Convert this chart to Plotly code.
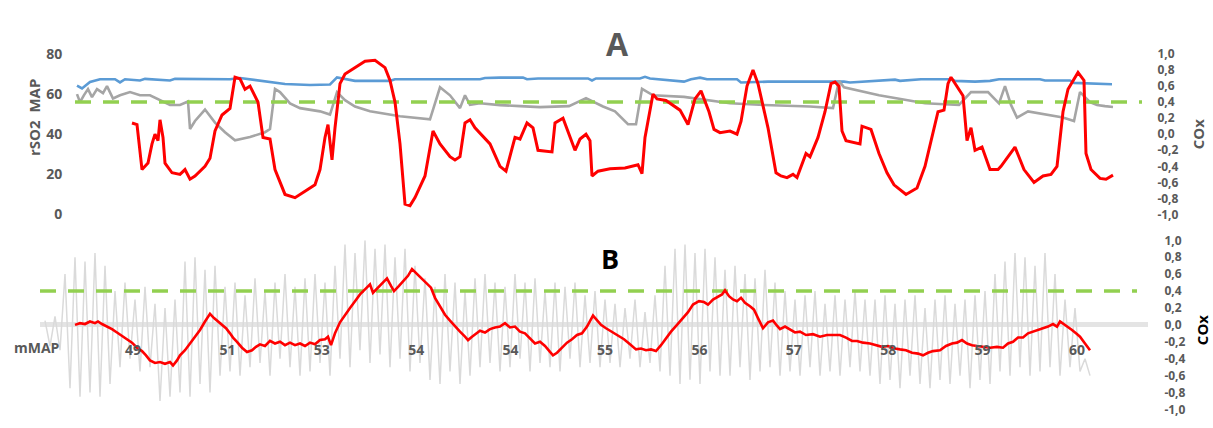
import numpy as np
import plotly.graph_objects as go

W, H = 1213, 428

# ---------------- Panel A data (time samples, values) ----------------
A_RED_T = [57, 62, 67, 73, 77, 80, 83, 85, 88, 90, 97, 105, 110, 115, 120, 130, 135, 140, 147, 155,
           160, 165, 170, 175, 183, 188, 195, 200, 210, 220, 230, 240, 245, 250, 253, 257, 260, 265,
           270, 280, 290, 300, 310, 315, 320, 325, 330, 335, 340, 350, 358, 365, 375, 380, 385, 390,
           395, 400, 415, 425, 431, 440, 445, 452, 458, 463, 477, 480, 488, 500, 505, 511, 515, 517,
           523, 535, 550, 563, 567, 570, 578, 582, 591, 605, 613, 620, 626, 634, 639, 645, 655, 662,
           666, 672, 678, 683, 693, 701, 706, 712, 718, 722, 727, 731, 735, 743, 750, 756, 760, 764,
           767, 771, 785, 787, 796, 804, 812, 819, 831, 842, 850, 857, 863, 869, 873, 876, 880, 888,
           892, 896, 900, 907, 915, 923, 926, 940, 949, 959, 968, 976, 982, 988, 993, 1003, 1009,
           1011, 1016, 1025, 1031, 1038]
A_RED_COX = [0.14, 0.12, -0.44, -0.36, -0.12, 0.0, -0.08, 0.18, -0.04, -0.36, -0.48, -0.50, -0.44,
             -0.56, -0.52, -0.40, -0.30, 0.04, 0.24, 0.32, 0.71, 0.69, 0.56, 0.60, 0.40, -0.04, -0.06,
             -0.44, -0.75, -0.79, -0.71, -0.63, -0.44, -0.04, 0.12, -0.32, 0.08, 0.63, 0.75, 0.83,
             0.91, 0.92, 0.83, 0.67, 0.40, -0.12, -0.87, -0.89, -0.79, -0.52, 0.04, -0.12, -0.28,
             -0.32, -0.28, 0.14, 0.18, 0.08, -0.12, -0.40, -0.46, -0.04, -0.06, 0.14, 0.08, -0.20,
             -0.22, 0.14, 0.20, -0.20, -0.06, 0.0, -0.08, -0.52, -0.46, -0.43, -0.42, -0.38, -0.49,
             -0.04, 0.50, 0.44, 0.42, 0.30, 0.12, 0.44, 0.54, 0.28, 0.06, 0.02, 0.04, 0.0, 0.16,
             0.60, 0.80, 0.63, 0.08, -0.48, -0.52, -0.54, -0.50, -0.54, -0.36, -0.24, -0.28, -0.04,
             0.28, 0.63, 0.65, 0.60, 0.04, -0.08, -0.12, 0.10, 0.06, -0.24, -0.48, -0.63, -0.75,
             -0.67, -0.40, -0.04, 0.28, 0.30, 0.63, 0.71, 0.63, 0.48, -0.08, 0.08, -0.20, -0.16,
             -0.44, -0.44, -0.40, -0.16, -0.44, -0.60, -0.52, -0.50, -0.40, 0.28, 0.56, 0.77, 0.67,
             -0.24, -0.44, -0.55, -0.56, -0.51]

A_MAP_T = [2, 7, 15, 25, 40, 45, 50, 65, 70, 95, 100, 155, 165, 175, 210, 235, 255, 262, 270, 280,
           315, 320, 405, 410, 425, 448, 452, 463, 513, 517, 521, 565, 570, 575, 609, 616, 625, 632,
           662, 666, 693, 769, 775, 808, 820, 825, 846, 877, 880, 900, 915, 924, 965, 970, 995, 999,
           1025, 1037]
A_MAP = [64.2, 62.8, 66.0, 67.4, 67.4, 65.8, 67.4, 66.8, 67.6, 66.8, 67.6, 67.4, 68.0, 67.4, 65.0,
         64.5, 64.8, 68.3, 67.4, 66.6, 66.6, 67.4, 67.4, 68.0, 68.2, 68.2, 67.4, 67.8, 67.8, 66.8,
         67.8, 67.8, 68.6, 67.8, 66.2, 67.4, 68.2, 67.4, 67.4, 65.8, 66.2, 66.2, 65.8, 66.6, 67.2,
         66.6, 67.4, 67.4, 66.6, 66.2, 66.6, 67.4, 67.4, 66.8, 66.8, 65.6, 65.0, 64.9]

A_RSO2_T = [2, 5, 9, 13, 17, 22, 28, 32, 38, 45, 55, 65, 75, 85, 95, 105, 113, 115, 120, 130, 140,
            150, 160, 175, 190, 195, 200, 205, 215, 225, 245, 255, 262, 270, 280, 295, 325, 355,
            365, 375, 385, 390, 395, 405, 425, 445, 465, 494, 511, 528, 540, 553, 561, 567, 578,
            609, 632, 655, 689, 735, 758, 764, 769, 804, 850, 884, 896, 913, 924, 930, 936, 942,
            953, 988, 999, 1005, 1015, 1022, 1030, 1038]
A_RSO2 = [60.0, 56.0, 59.5, 62.5, 58.5, 62.5, 60.5, 64.0, 57.8, 59.4, 61.0, 59.4, 59.4, 57.0, 54.6,
          54.6, 56.3, 42.6, 46.6, 52.3, 45.8, 41.0, 37.0, 38.6, 41.0, 42.6, 62.6, 61.0, 55.4, 53.0,
          51.4, 49.8, 61.0, 57.0, 53.8, 51.4, 49.0, 47.4, 63.4, 59.4, 53.0, 59.4, 54.6, 55.4, 54.5,
          54.0, 53.5, 54.0, 58.0, 53.8, 51.4, 45.0, 45.0, 62.6, 59.4, 58.6, 57.0, 55.4, 54.6, 53.8,
          53.0, 66.6, 63.4, 59.4, 55.4, 54.6, 61.0, 61.0, 55.4, 64.0, 54.6, 48.3, 51.4, 48.3, 46.6,
          61.0, 56.0, 54.6, 54.0, 53.6]

# ---------------- Panel B data ----------------
B_RED_T = [35, 40, 45, 50, 55, 58, 62, 67, 72, 77, 82, 87, 92, 97, 102, 106, 110, 115, 120, 125,
           130, 133, 137, 140, 145, 150, 155, 160, 165, 170, 174, 178, 182, 186, 190, 193, 197, 202,
           207, 212, 216, 220, 225, 230, 235, 240, 245, 250, 255, 260, 265, 270, 275, 280, 285, 288,
           291, 295, 300, 305, 310, 315, 320, 325, 330, 333, 338, 343, 347, 351, 354, 359, 364, 368,
           372, 377, 382, 387, 391, 395, 400, 405, 410, 415, 420, 425, 428, 432, 436, 440, 445, 450,
           455, 460, 465, 470, 475, 480, 485, 490, 495, 500, 505, 510, 513, 517, 522, 527, 532, 537,
           542, 547, 553, 557, 561, 566, 572, 578, 584, 590, 596, 601, 606, 611, 616, 621, 626, 631,
           637, 642, 648, 653, 659, 664, 668, 673, 678, 682, 685, 689, 693, 697, 701, 705, 710, 714,
           718, 723, 728, 733, 737, 740, 745, 750, 755, 760, 766, 773, 780, 787, 793, 800, 806, 812,
           817, 823, 830, 836, 842, 848, 855, 860, 866, 872, 878, 883, 888, 893, 900, 906, 912, 917,
           922, 927, 932, 937, 943, 950, 957, 963, 968, 973, 978, 983, 988, 993, 998, 1003, 1008,
           1013, 1017, 1020, 1024, 1028, 1032, 1036, 1040, 1045, 1050]
B_RED_COX = [0.0, 0.02, 0.01, 0.04, 0.02, 0.04, 0.01, -0.02, -0.05, -0.09, -0.13, -0.18, -0.21,
             -0.27, -0.31, -0.36, -0.42, -0.45, -0.44, -0.46, -0.44, -0.48, -0.42, -0.36, -0.30,
             -0.22, -0.14, -0.06, 0.04, 0.13, 0.08, 0.04, 0.0, -0.04, -0.10, -0.15, -0.20, -0.27,
             -0.32, -0.30, -0.26, -0.23, -0.25, -0.19, -0.22, -0.20, -0.24, -0.21, -0.24, -0.22,
             -0.25, -0.21, -0.23, -0.18, -0.17, -0.14, -0.24, -0.10, 0.03, 0.12, 0.20, 0.28, 0.36,
             0.42, 0.48, 0.38, 0.44, 0.50, 0.55, 0.46, 0.40, 0.46, 0.52, 0.58, 0.66, 0.60, 0.55,
             0.48, 0.44, 0.32, 0.22, 0.12, 0.05, -0.02, -0.08, -0.14, -0.18, -0.14, -0.10, -0.07,
             -0.09, -0.05, -0.03, -0.02, 0.02, -0.03, -0.02, -0.08, -0.10, -0.16, -0.22, -0.20,
             -0.25, -0.32, -0.36, -0.33, -0.27, -0.21, -0.17, -0.12, -0.10, -0.02, 0.11, 0.06, 0.0,
             -0.04, -0.08, -0.12, -0.17, -0.23, -0.29, -0.28, -0.30, -0.29, -0.31, -0.24, -0.16,
             -0.08, 0.0, 0.07, 0.15, 0.24, 0.28, 0.27, 0.24, 0.30, 0.33, 0.36, 0.41, 0.34, 0.30,
             0.28, 0.32, 0.26, 0.22, 0.18, 0.08, -0.04, 0.03, 0.05, -0.01, -0.05, -0.02, -0.06,
             -0.09, -0.08, -0.12, -0.11, -0.14, -0.12, -0.12, -0.12, -0.15, -0.19, -0.19, -0.21,
             -0.22, -0.24, -0.26, -0.25, -0.28, -0.29, -0.30, -0.33, -0.34, -0.36, -0.33, -0.31,
             -0.30, -0.25, -0.22, -0.21, -0.18, -0.22, -0.24, -0.25, -0.26, -0.27, -0.26, -0.27,
             -0.22, -0.20, -0.15, -0.15, -0.10, -0.08, -0.06, -0.04, -0.02, 0.01, -0.02, 0.04, 0.01,
             -0.02, -0.06, -0.10, -0.14, -0.22, -0.30]

# raw (unsmoothed) signal, light grey, one sample every 5 time units starting at 5
B_RAW = [0.05, -0.25, 0.1, -0.3,
         0.6, -0.75, 0.8, -0.85, 0.75, -0.8, 0.85, -0.85, 0.7, -0.7,
         0.4, -0.5, 0.5, -0.4, 0.3, -0.55, 0.45, -0.5,
         0.25, -0.9, 0.2, -0.85, 0.3,
         -0.8, 0.75, -0.85, 0.8, -0.7, 0.65, -0.8, 0.7, -0.6,
         0.45, -0.55, 0.5, -0.6, 0.35, -0.5, 0.55, -0.45, 0.4, -0.6, 0.5, -0.4,
         0.6, -0.5, 0.45, -0.6, 0.55, -0.55, 0.6, -0.45, 0.5, -0.6,
         0.7, -0.4, 0.95, -0.5, 0.85, -0.3, 1.0, -0.45, 0.9, -0.35, 0.95, -0.5, 0.8, -0.4, 0.9, -0.55, 0.7, -0.45,
         0.55, -0.65, 0.45, -0.7, 0.6, -0.55, 0.5, -0.7, 0.4, -0.6,
         0.55, -0.5, 0.6, -0.45, 0.5, -0.55, 0.45, -0.5, 0.6, -0.4, 0.5, -0.55, 0.55, -0.45, 0.4, -0.5,
         0.5, -0.55, 0.45, -0.4, 0.5, -0.5, 0.35, -0.45, 0.4, -0.5,
         0.3, -0.45, 0.25, -0.5, 0.2, -0.4, 0.3, -0.5, 0.15, -0.45, 0.35, -0.55,
         0.7, -0.6, 0.9, -0.7, 0.95, -0.65, 0.85, -0.7, 0.9, -0.55, 0.8, -0.6,
         0.65, -0.6, 0.7, -0.5, 0.6, -0.65, 0.55, -0.55, 0.65, -0.5, 0.5, -0.6,
         0.4, -0.55, 0.3, -0.6, 0.35, -0.5, 0.4, -0.6, 0.25, -0.55, 0.35, -0.6, 0.3, -0.5, 0.4, -0.55, 0.3, -0.6,
         0.3, -0.7, 0.35, -0.65, 0.25, -0.75, 0.3, -0.6, 0.35, -0.7, 0.2, -0.75, 0.3, -0.65, 0.35, -0.7,
         0.25, -0.6, 0.3, -0.75, 0.35, -0.65, 0.4, -0.7,
         0.6, -0.55, 0.75, -0.6, 0.85, -0.5, 0.8, -0.6, 0.7, -0.55, 0.85, -0.5, 0.6, -0.6,
         0.3, -0.5, 0.2, -0.55, -0.4, -0.6]
B_RAW_T = list(range(5, 5 * len(B_RAW) + 1, 5))

COX_THRESHOLD = 0.4
MMAP_LABELS = ["49", "51", "53", "54", "54", "55", "56", "57", "58", "59", "60"]
LEFT_TICKS = [0, 20, 40, 60, 80]
COX_TICKS = [-1.0, -0.8, -0.6, -0.4, -0.2, 0.0, 0.2, 0.4, 0.6, 0.8, 1.0]
COX_TICKTEXT = ["-1,0", "-0,8", "-0,6", "-0,4", "-0,2", "0,0", "0,2", "0,4", "0,6", "0,8", "1,0"]

# ---------------- figure ----------------
FONT = "Open Sans"
TXT = "#595959"
GREEN = "#92d050"

A_XMAX = 1073
B_XMAX = 1108

fig = go.Figure()
fig.add_trace(go.Scatter(x=A_MAP_T, y=A_MAP, mode="lines", line=dict(color="#5b9bd5", width=2.6),
                         xaxis="x", yaxis="y", name="MAP"))
fig.add_trace(go.Scatter(x=A_RSO2_T, y=A_RSO2, mode="lines", line=dict(color="#a5a5a5", width=2.6),
                         xaxis="x", yaxis="y", name="rSO2"))
fig.add_trace(go.Scatter(x=[0, A_XMAX - 6], y=[COX_THRESHOLD, COX_THRESHOLD], mode="lines",
                         line=dict(color=GREEN, width=3.5, dash="16px,12px"),
                         xaxis="x", yaxis="y2", name="threshold"))
fig.add_trace(go.Scatter(x=A_RED_T, y=A_RED_COX, mode="lines", line=dict(color="#ff0000", width=3),
                         xaxis="x", yaxis="y2", name="COx"))

fig.add_trace(go.Scatter(x=B_RAW_T, y=B_RAW, mode="lines", line=dict(color="#dadada", width=1.5),
                         xaxis="x2", yaxis="y3", name="raw"))
fig.add_trace(go.Scatter(x=[0, B_XMAX - 11], y=[COX_THRESHOLD, COX_THRESHOLD], mode="lines",
                         line=dict(color=GREEN, width=3.5, dash="16px,12px"),
                         xaxis="x2", yaxis="y3", name="threshold B"))
fig.add_trace(go.Scatter(x=B_RED_T, y=B_RED_COX, mode="lines", line=dict(color="#ff0000", width=2.6),
                         xaxis="x2", yaxis="y3", name="COx B"))

tickfont = dict(family=FONT, size=14, color=TXT, weight="bold")
coxfont = dict(family=FONT, size=12, color=TXT, weight="bold")
tick_pos = list(np.linspace(93, 1037, len(MMAP_LABELS)))

fig.update_layout(
    width=W, height=H, margin=dict(l=0, r=0, t=0, b=0),
    paper_bgcolor="white", plot_bgcolor="white", showlegend=False,
    xaxis=dict(domain=[75 / W, 1148 / W], range=[0, A_XMAX], visible=False, anchor="y"),
    yaxis=dict(domain=[1 - 214 / H, 1 - 46 / H], range=[0, 80], tickvals=LEFT_TICKS,
               showgrid=False, zeroline=False, showline=False, ticks="outside", ticklen=9,
               tickcolor="rgba(0,0,0,0)", tickfont=tickfont, anchor="x"),
    yaxis2=dict(domain=[1 - 214 / H, 1 - 46 / H], range=[-1, 1], overlaying="y", side="right",
                tickvals=COX_TICKS, ticktext=COX_TICKTEXT, showgrid=False, zeroline=False,
                ticks="outside", ticklen=6, tickcolor="rgba(0,0,0,0)", tickfont=coxfont, anchor="x"),
    xaxis2=dict(domain=[40 / W, 1148 / W], range=[0, B_XMAX], anchor="free", position=1 - 331 / H,
                tickvals=tick_pos, ticktext=MMAP_LABELS, showgrid=False, zeroline=False,
                showline=False, ticks="outside", ticklen=11, tickcolor="rgba(0,0,0,0)",
                tickfont=tickfont),
    yaxis3=dict(domain=[1 - 418 / H, 1 - 241 / H], range=[-1, 1], side="right", anchor="x2",
                tickvals=COX_TICKS, ticktext=COX_TICKTEXT, showgrid=False, zeroline=True,
                zerolinecolor="#e4e4e4", zerolinewidth=5, ticks="outside", ticklen=13,
                tickcolor="rgba(0,0,0,0)", tickfont=coxfont),
)

ann = dict(xref="paper", yref="paper", showarrow=False, xanchor="center", yanchor="middle")
fig.add_annotation(text="A", x=617 / W, y=1 - 35 / H, font=dict(family=FONT, size=32, color=TXT, weight="bold"), **ann)
fig.add_annotation(text="B", x=610 / W, y=1 - 260 / H, font=dict(family=FONT, size=27, color="black", weight="bold"), **ann)
fig.add_annotation(text="rSO2\u00a0 MAP", x=34 / W, y=1 - 113 / H, textangle=-90,
                   font=dict(family=FONT, size=15, color=TXT, weight="bold"), **ann)
fig.add_annotation(text="COx", x=1198 / W, y=1 - 130 / H, textangle=-90,
                   font=dict(family=FONT, size=15, color=TXT, weight="bold"), **ann)
fig.add_annotation(text="COx", x=1202 / W, y=1 - 335 / H, textangle=-90,
                   font=dict(family=FONT, size=15, color="black", weight="bold"), **ann)
fig.add_annotation(text="mMAP", x=37 / W, y=1 - 353 / H,
                   font=dict(family=FONT, size=14, color=TXT, weight="bold"), **ann)

fig.write_html("out.html")
